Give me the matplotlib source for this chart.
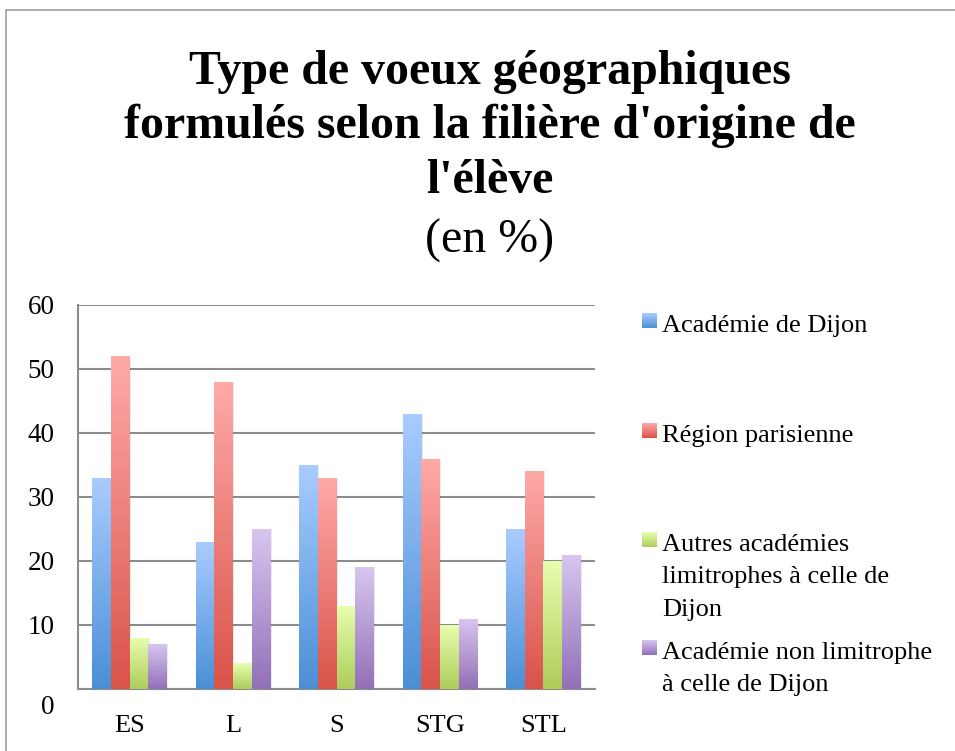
import numpy as np
import matplotlib
matplotlib.use("Agg")
import matplotlib.pyplot as plt
from matplotlib.colors import LinearSegmentedColormap
from matplotlib.patches import Rectangle
from matplotlib.transforms import ScaledTranslation

categories = ["ES", "L", "S", "STG", "STL"]
series_names = ["Académie de Dijon", "Région parisienne",
                "Autres académies\nlimitrophes à celle de\nDijon",
                "Académie non limitrophe\nà celle de Dijon"]
academie_dijon = [33, 23, 35, 43, 25]
region_parisienne = [52, 48, 33, 36, 34]
autres_limitrophes = [8, 4, 13, 10, 20]
non_limitrophe = [7, 25, 19, 11, 21]
yticks = [0, 10, 20, 30, 40, 50, 60]

series = [academie_dijon, region_parisienne, autres_limitrophes, non_limitrophe]
grads = [("#4A8FD6", "#AACCFF"), ("#D9534A", "#FFAAA8"),
         ("#ADCC5A", "#E8FFB0"), ("#9270B8", "#D8C6F0")]

plt.rcParams['font.family'] = ['Liberation Serif', 'DejaVu Serif']

fig = plt.figure(figsize=(9.55, 7.51), dpi=100)
W, H = 955, 751

# outer frame
fig.add_artist(Rectangle((6 / W, -0.1), 1.2, (H - 10) / H + 0.1, transform=fig.transFigure,
                         fill=False, edgecolor="#A0A0A0", linewidth=1.2))

ax = fig.add_axes([78 / W, (H - 689) / H, (595 - 78) / W, (689 - 305) / H])

n = len(categories)
x = np.arange(n)
bw = 0.18
grad_img = np.linspace(0, 1, 256).reshape(-1, 1)
for i, (vals, (c0, c1)) in enumerate(zip(series, grads)):
    cmap = LinearSegmentedColormap.from_list(f"g{i}", [c0, c1])
    bars = ax.bar(x + (i - 1.5) * bw, vals, bw, color="none", edgecolor="none", zorder=3)
    for b in bars:
        bx, by = b.get_x(), b.get_y()
        bwid, bh = b.get_width(), b.get_height()
        ax.add_patch(Rectangle((bx + 0.012, by), bwid, bh, facecolor="#000000", alpha=0.08,
                               edgecolor="none", zorder=2.5))
        im = ax.imshow(grad_img, cmap=cmap, origin="lower", aspect="auto",
                       extent=[bx, bx + bwid, by, by + bh], zorder=3)
        im.set_clip_path(b)

ax.set_xlim(-0.5, n - 0.5)
ax.set_ylim(0, 60)
ax.set_yticks(yticks)
ax.set_xticks(x)
ax.set_xticklabels(categories)
ax.tick_params(axis="x", length=0, labelsize=19, pad=19)
ax.tick_params(axis="y", length=0, labelsize=19.5, pad=17)
ax.yaxis.grid(True, color="#8C8C8C", linewidth=1.5, zorder=0)
ax.set_axisbelow(True)
for s in ["top", "right"]:
    ax.spines[s].set_visible(False)
for s in ["left", "bottom"]:
    ax.spines[s].set_color("#8C8C8C")
    ax.spines[s].set_linewidth(1.5)

# the "0" label sits lower in the reference
lab0 = ax.get_yticklabels()[0]
lab0.set_transform(lab0.get_transform() + ScaledTranslation(0, -0.16, fig.dpi_scale_trans))

# title
cx = 490 / W
fig.text(cx, (H - 72) / H, "Type de voeux géographiques", ha="center", va="center",
         fontsize=34.5, fontweight="bold")
fig.text(cx, (H - 126) / H, "formulés selon la filière d'origine de", ha="center", va="center",
         fontsize=34.5, fontweight="bold")
fig.text(cx, (H - 181) / H, "l'élève", ha="center", va="center",
         fontsize=34.5, fontweight="bold")
fig.text(cx, (H - 241) / H, "(en %)", ha="center", va="center", fontsize=34.5)

# legend
sq_tops = [313, 423, 532, 640]
line_gap = 32.5
for name, (c0, c1), top in zip(series_names, grads, sq_tops):
    lax = fig.add_axes([642 / W, (H - top - 15) / H, 15 / W, 15 / H])
    cmap = LinearSegmentedColormap.from_list("lg", [c0, c1])
    lax.imshow(grad_img, cmap=cmap, origin="lower", aspect="auto")
    lax.axis("off")
    for k, line in enumerate(name.split("\n")):
        fig.text(662 / W, (H - top - 19 - k * line_gap) / H, line, ha="left",
                 va="baseline", fontsize=19)

fig.savefig("out.png", dpi=100)
